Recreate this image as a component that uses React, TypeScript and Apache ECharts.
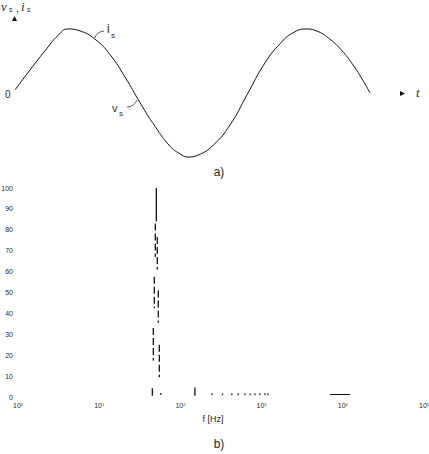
import React, { useEffect, useRef } from "react";
import * as echarts from "echarts";

// ---- Panel a): source waveform (time in ms, normalised amplitude) ----
const timeMs = [
  0.55, 1.81, 3.07, 4.16, 5.0, 6.01, 7.27, 8.53, 9.79, 11.05, 12.31, 13.57, 14.41,
  15.08, 15.92, 17.18, 18.61, 20.04, 21.55, 22.82, 23.91, 25.0, 26.01, 27.02,
  28.03, 28.87, 29.71, 30.38,
];
const waveValues = [
  0.05, 0.36, 0.66, 0.9, 1.0, 0.97, 0.84, 0.6, 0.25, -0.15, -0.52, -0.83, -0.95,
  -1.0, -0.97, -0.82, -0.5, -0.03, 0.47, 0.77, 0.94, 1.0, 0.96, 0.84, 0.66,
  0.46, 0.22, 0.0,
];

// ---- Panel b): spectrum (frequency in Hz, amplitude in %) ----
const fundamentalFreq = [50.5];
const fundamentalTop = [100];
const fundamentalBottom = [84];

const dashedFreqs = [49.1, 51.9, 47.7, 53.4, 46.4, 55.0];
const dashedTop = [83, 76.5, 57.5, 51, 33, 25];
const dashedBottom = [67, 61, 42.5, 35.5, 17.5, 9.5];

const smallLineFreqs = [45.1, 151];
const smallLineTop = [4.2, 4.5];
const smallLineBottom = [0.6, 0.6];

const dotFreqs = [57.2, 245, 330, 430, 515, 625, 720, 830, 950, 1100, 1200];
const dotValues = [1.4, 1.3, 1.3, 1.3, 1.3, 1.3, 1.3, 1.3, 1.3, 1.3, 1.3];

const bandFreqs = [6950, 12300];
const bandValue = [1.2, 1.2];

const yTickMax = 100;
const yTickStep = 10;

export default function App() {
  const ref = useRef<HTMLDivElement>(null);

  useEffect(() => {
    if (!ref.current) return;
    const chart = echarts.init(ref.current, undefined, { renderer: "svg" });
    const ink = "#111";
    const txt = "#2a2a2a";

    const segSeries: any[] = [];
    fundamentalFreq.forEach((f, i) => {
      segSeries.push({
        type: "line",
        xAxisIndex: 1,
        yAxisIndex: 1,
        symbol: "none",
        data: [
          [f, fundamentalTop[i]],
          [f, fundamentalBottom[i]],
        ],
        lineStyle: { color: ink, width: 1.3 },
      });
    });
    dashedFreqs.forEach((f, i) => {
      segSeries.push({
        type: "line",
        xAxisIndex: 1,
        yAxisIndex: 1,
        symbol: "none",
        data: [
          [f, dashedTop[i]],
          [f, dashedBottom[i]],
        ],
        lineStyle: { color: ink, width: 1.3, type: [7, 3] },
      });
    });
    smallLineFreqs.forEach((f, i) => {
      segSeries.push({
        type: "line",
        xAxisIndex: 1,
        yAxisIndex: 1,
        symbol: "none",
        data: [
          [f, smallLineTop[i]],
          [f, smallLineBottom[i]],
        ],
        lineStyle: { color: ink, width: 1.3 },
      });
    });

    chart.setOption({
      animation: false,
      backgroundColor: "#fff",
      grid: [
        { left: 8.5, top: 22.6, width: 380.8, height: 140.8, containLabel: false, outerBoundsMode: "none" },
        { left: 18, top: 188, width: 406, height: 209, containLabel: false, outerBoundsMode: "none" },
      ],
      xAxis: [
        { type: "value", gridIndex: 0, min: 0, max: 32, show: false },
        {
          type: "log",
          gridIndex: 1,
          logBase: 10,
          min: 1,
          max: 100000,
          splitNumber: 5,
          axisLine: { show: false },
          axisTick: { show: false },
          splitLine: { show: false },
          axisLabel: {
            margin: 5,
            formatter: (v: number) => `{b|10}{e|${Math.round(Math.log10(v))}}`,
            rich: {
              b: { fontSize: 7, color: txt, fontFamily: "Liberation Sans" },
              e: { fontSize: 4, color: txt, fontFamily: "Liberation Sans", verticalAlign: "top" },
            },
          },
        },
      ],
      yAxis: [
        { type: "value", gridIndex: 0, min: -1.1, max: 1.1, show: false },
        {
          type: "value",
          gridIndex: 1,
          min: 0,
          max: yTickMax,
          interval: yTickStep,
          axisLine: { show: false },
          axisTick: { show: false },
          splitLine: { show: false },
          axisLabel: { margin: 5, fontSize: 7, color: txt, fontFamily: "Liberation Sans" },
        },
      ],
      series: [
        {
          type: "line",
          xAxisIndex: 0,
          yAxisIndex: 0,
          symbol: "none",
          smooth: 0.5,
          data: timeMs.map((t, i) => [t, waveValues[i]]),
          lineStyle: { color: ink, width: 1 },
        },
        ...segSeries,
        {
          type: "scatter",
          xAxisIndex: 1,
          yAxisIndex: 1,
          symbol: "rect",
          symbolSize: [1.4, 2],
          data: dotFreqs.map((f, i) => [f, dotValues[i]]),
          itemStyle: { color: ink },
        },
        {
          type: "line",
          xAxisIndex: 1,
          yAxisIndex: 1,
          symbol: "none",
          data: bandFreqs.map((f, i) => [f, bandValue[i]]),
          lineStyle: { color: ink, width: 1.2 },
        },
      ],
      graphic: [
        // y label v_s , i_s
        { type: "text", x: 1, y: 0, style: { text: "v", fontSize: 13, fontStyle: "italic", fontFamily: "Liberation Serif", fill: txt } },
        { type: "text", x: 9, y: 6, style: { text: "s", fontSize: 7, fontFamily: "Liberation Sans", fill: txt } },
        { type: "text", x: 16, y: 2, style: { text: ",", fontSize: 11, fontFamily: "Liberation Sans", fill: txt } },
        { type: "text", x: 21, y: 0, style: { text: "i", fontSize: 13, fontStyle: "italic", fontFamily: "Liberation Serif", fill: txt } },
        { type: "text", x: 27, y: 6, style: { text: "s", fontSize: 7, fontFamily: "Liberation Sans", fill: txt } },
        { type: "polygon", shape: { points: [[14.5, 16], [12, 21], [17, 21]] }, style: { fill: "#111" } },
        { type: "text", x: 5, y: 89, style: { text: "0", fontSize: 10, fontFamily: "Liberation Sans", fill: txt } },
        { type: "polygon", shape: { points: [[400, 91], [400, 96], [405, 93.5]] }, style: { fill: "#111" } },
        { type: "text", x: 416, y: 86, style: { text: "t", fontSize: 13, fontStyle: "italic", fontFamily: "Liberation Serif", fill: txt } },
        // i_s annotation
        { type: "bezierCurve", shape: { x1: 95, y1: 38, cpx1: 96, cpy1: 32, x2: 104, y2: 31 }, style: { stroke: "#333", lineWidth: 0.8, fill: "none" } },
        { type: "text", x: 107, y: 23, style: { text: "i", fontSize: 12, fontFamily: "Liberation Sans", fill: txt } },
        { type: "text", x: 111, y: 31, style: { text: "s", fontSize: 8, fontFamily: "Liberation Sans", fill: txt } },
        // v_s annotation
        { type: "bezierCurve", shape: { x1: 127, y1: 107, cpx1: 134, cpy1: 107, x2: 137, y2: 100 }, style: { stroke: "#333", lineWidth: 0.8, fill: "none" } },
        { type: "text", x: 112, y: 102, style: { text: "v", fontSize: 11, fontFamily: "Liberation Sans", fill: txt } },
        { type: "text", x: 119, y: 109, style: { text: "s", fontSize: 8, fontFamily: "Liberation Sans", fill: txt } },
        // panel captions
        { type: "text", x: 219, y: 172, style: { text: "a)", fontSize: 12, fontFamily: "Liberation Sans", fill: txt, align: "center", verticalAlign: "middle" } },
        { type: "text", x: 213, y: 419, style: { text: "f [Hz]", fontSize: 9, fontFamily: "Liberation Sans", fill: txt, align: "center", verticalAlign: "middle" } },
        { type: "text", x: 219, y: 444, style: { text: "b)", fontSize: 12, fontFamily: "Liberation Sans", fill: txt, align: "center", verticalAlign: "middle" } },
      ],
    });
    return () => chart.dispose();
  }, []);

  return (
    <div
      ref={ref}
      style={{ position: "fixed", left: 0, top: 0, width: 429, height: 454, background: "#fff" }}
    />
  );
}
